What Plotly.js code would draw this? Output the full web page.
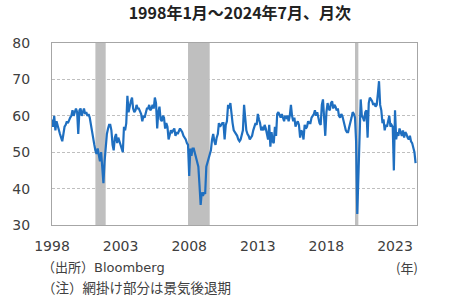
<!DOCTYPE html>
<html>
<head>
<meta charset="utf-8">
<script src="https://cdn.plot.ly/plotly-3.0.1.min.js"></script>
<style>html,body{margin:0;padding:0;background:#fff;}#chart{width:450px;height:304px;}</style>
</head>
<body>
<div id="chart"></div>
<script>
// Monthly values, Jan 1998 - Jul 2024
const v1998 = [59, 57, 60, 56, 58.5, 57, 56.5, 55, 54, 53, 55, 57];
const v1999 = [57.5, 58.5, 58, 59, 59.5, 60, 61.5, 60, 61, 62, 61, 55];
const v2000 = [61.5, 62, 60, 61.5, 62, 60.5, 61, 60, 60.5, 59.5, 57.5, 56];
const v2001 = [53, 52, 50.5, 49.5, 51, 48.5, 47.5, 50, 46, 41.5, 47.5, 52];
const v2002 = [55, 56.5, 57.5, 57.5, 56, 52, 50.5, 54, 55, 52.5, 54, 53];
const v2003 = [52, 51, 50, 57, 56, 58, 65.5, 61, 63, 64, 65, 62];
const v2004 = [61, 61.5, 63, 62, 62, 61, 60.5, 58.5, 60, 59.5, 61, 62];
const v2005 = [62, 63, 61.5, 62, 63, 62, 65, 63.5, 56.5, 61, 62.5, 59];
const v2006 = [58.5, 60, 59.5, 56.5, 58, 57, 53.5, 55, 56, 55.5, 56, 56.5];
const v2007 = [54.5, 55.5, 55, 56, 56.5, 56, 55.5, 54.5, 54, 53.5, 52.5, 52];
const v2008 = [43.5, 51, 49, 51, 51, 49.5, 48.5, 47.5, 46, 41, 35.5, 39];
const v2009 = [38, 39, 38.5, 46, 47, 48.5, 49, 50.5, 53.5, 55, 53, 52];
const v2010 = [54, 55, 58, 57, 57.5, 58, 58, 53.5, 57.5, 58.5, 63, 62];
const v2011 = [63.5, 60, 58, 56, 55.5, 55, 54.5, 53.5, 53, 53.5, 54.5, 56];
const v2012 = [63, 59, 56, 55, 54.5, 53.5, 54, 54.5, 56, 57, 58, 57.5];
const v2013 = [60.5, 59, 58, 56, 57, 56, 57.5, 56.5, 55, 53.5, 57.5, 51.5];
const v2014 = [55.5, 53, 52.5, 57, 54.5, 60.5, 61, 60, 59.5, 60.5, 59, 58.5];
const v2015 = [60, 59.5, 60, 58.5, 60, 63, 60, 58.5, 59.5, 57, 58, 58.5];
const v2016 = [57.5, 54, 56, 55.5, 53.5, 57.5, 56.5, 57, 58.5, 58, 58, 59.5];
const v2017 = [60, 60.5, 61.5, 60, 61, 59.5, 58, 57.5, 63, 64.5, 58, 54.5];
const v2018 = [61, 63.5, 62, 61.5, 63.5, 64, 62, 63, 62.5, 61.5, 62, 60];
const v2019 = [59.5, 60.5, 60, 58.5, 57, 56, 55.5, 55.5, 57, 58, 59.5, 61];
const v2020 = [60.5, 59.5, 53, 33, 43, 58, 64.5, 60, 59.5, 58.5, 61, 61.5];
const v2021 = [54, 63.5, 65, 64.5, 64, 63, 63.5, 62.5, 63, 66, 69.5, 63];
const v2022 = [61.5, 58, 59, 56, 57.5, 57, 58.5, 60, 57, 57.5, 57, 45];
const v2023 = [61.5, 53.5, 55.5, 54.5, 56.5, 55, 54.5, 56, 54, 55.5, 55, 54];
const v2024 = [53.5, 54.5, 53, 52.5, 51.5, 50, 47];

const yearly = [v1998, v1999, v2000, v2001, v2002, v2003, v2004, v2005, v2006, v2007,
  v2008, v2009, v2010, v2011, v2012, v2013, v2014, v2015, v2016, v2017,
  v2018, v2019, v2020, v2021, v2022, v2023, v2024];
const startYear = 1998;

// Recession periods (start, end)
const recessions = [["2001-03-01", "2001-11-30"], ["2007-12-01", "2009-06-30"], ["2020-02-01", "2020-04-30"]];

const titleText = "1998年1月～2024年7月、月次";
const sourceText = "（出所）Bloomberg";
const noteText = "（注）網掛け部分は景気後退期";
const unitText = "(年)";

const xs = [], ys = [];
yearly.forEach((arr, i) => {
  arr.forEach((val, m) => {
    const mm = String(m + 1).padStart(2, "0");
    xs.push((startYear + i) + "-" + mm + "-01");
    ys.push(val);
  });
});

const shapes = recessions.map(r => ({
  type: "rect", xref: "x", yref: "paper", x0: r[0], x1: r[1], y0: 0, y1: 1,
  fillcolor: "#bfbfbf", line: {width: 0}, layer: "between"
}));

const txt = "#404040";
const font = "DejaVu Sans, Noto Sans CJK JP, sans-serif";

const layout = {
  width: 450, height: 304,
  margin: {l: 52, r: 33, t: 43, b: 79},
  paper_bgcolor: "#fff", plot_bgcolor: "#fff",
  showlegend: false,
  title: {text: "<b>" + titleText + "</b>", font: {family: "Noto Sans CJK JP, sans-serif", size: 16, color: "#222"},
    x: 0.533, xref: "container", xanchor: "center", y: 0.955, yref: "container", yanchor: "middle"},
  xaxis: {
    type: "date", range: ["1998-01-01", "2024-08-08"],
    tick0: "1998-01-01", dtick: "M60", tickformat: "%Y",
    showgrid: false, zeroline: false,
    showline: true, mirror: true, linecolor: "#a6a6a6", linewidth: 1,
    ticks: "", ticklabelstandoff: 8,
    tickfont: {family: font, size: 14, color: txt}
  },
  yaxis: {
    range: [30, 80], dtick: 10, tick0: 30,
    showgrid: true, gridcolor: "#bfbfbf", griddash: "3px,2px", gridwidth: 1,
    zeroline: false,
    showline: true, mirror: true, linecolor: "#a6a6a6", linewidth: 1,
    ticks: "", ticklabelstandoff: 18,
    tickfont: {family: font, size: 14, color: txt}
  },
  shapes: shapes,
  annotations: [
    {text: sourceText, xref: "paper", yref: "paper", x: -0.033, y: -0.236, xanchor: "left", yanchor: "middle",
      showarrow: false, font: {family: font, size: 13, color: txt}},
    {text: noteText, xref: "paper", yref: "paper", x: -0.033, y: -0.338, xanchor: "left", yanchor: "middle",
      showarrow: false, font: {family: "Noto Sans CJK JP, sans-serif", size: 13.5, color: txt}},
    {text: unitText, xref: "paper", yref: "paper", x: 1.007, y: -0.236, xanchor: "right", yanchor: "middle",
      showarrow: false, font: {family: "Noto Sans CJK JP, sans-serif", size: 13, color: txt}}
  ]
};

Plotly.newPlot("chart", [{
  x: xs, y: ys, type: "scatter", mode: "lines",
  line: {color: "#1f6fc0", width: 2.2}, hoverinfo: "skip"
}], layout, {staticPlot: true, displayModeBar: false});
</script>
</body>
</html>
